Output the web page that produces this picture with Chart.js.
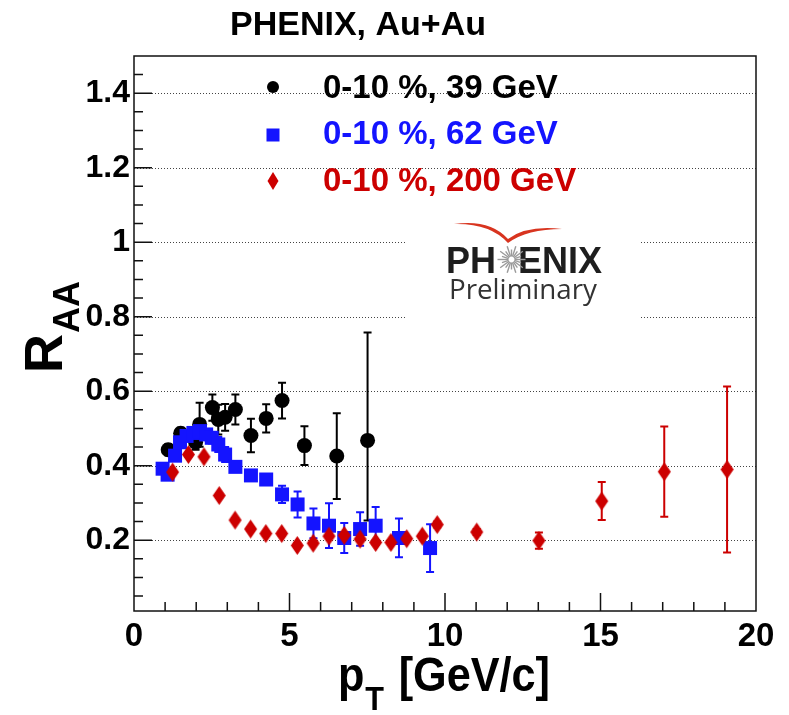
<!DOCTYPE html>
<html>
<head>
<meta charset="utf-8">
<script src="https://cdn.jsdelivr.net/npm/chart.js@4.4.1/dist/chart.umd.min.js"></script>
<style>
html,body{margin:0;padding:0;background:#fff;}
#wrap{width:789px;height:715px;position:relative;}
</style>
</head>
<body>
<div id="wrap"><canvas id="c" width="789" height="715"></canvas></div>
<script>
// ---- data ----
const titleText = 'PHENIX, Au+Au';
const legendLabels = ['0-10 %, 39 GeV', '0-10 %, 62 GeV', '0-10 %, 200 GeV'];

const pt39   = [1.10, 1.50, 1.98, 2.11, 2.52, 2.71, 2.93, 3.26, 3.76, 4.25, 4.76, 5.48, 6.52, 7.51];
const raa39  = [0.443,0.487,0.463,0.511,0.556,0.524,0.530,0.551,0.481,0.527,0.575,0.454,0.426,0.468];
const errLo39= [0.015,0.015,0.020,0.060,0.035,0.040,0.036,0.040,0.045,0.038,0.048,0.052,0.115,0.215];
const errHi39= [0.015,0.015,0.020,0.058,0.035,0.040,0.036,0.040,0.045,0.038,0.048,0.052,0.115,0.290];

const pt62   = [0.92,1.08,1.32,1.48,1.69,1.91,2.12,2.32,2.50,2.71,2.93,3.26,3.76,4.25,4.76,5.26,5.77,6.27,6.76,7.27,7.77,8.52,9.52];
const raa62  = [0.392,0.376,0.427,0.463,0.480,0.488,0.493,0.484,0.475,0.457,0.430,0.397,0.374,0.363,0.323,0.296,0.245,0.239,0.206,0.230,0.239,0.206,0.179];
const err62  = [0.010,0.010,0.010,0.010,0.010,0.010,0.010,0.012,0.015,0.020,0.020,0.012,0.012,0.015,0.023,0.035,0.040,0.060,0.040,0.045,0.050,0.052,0.064];

const pt200  = [1.24,1.75,2.25,2.74,3.25,3.75,4.24,4.75,5.25,5.76,6.27,6.76,7.27,7.77,8.26,8.77,9.27,9.75,11.02,13.02,15.04,17.05,19.07];
const raa200 = [0.383,0.430,0.424,0.320,0.254,0.230,0.218,0.218,0.186,0.192,0.211,0.213,0.203,0.194,0.194,0.204,0.211,0.242,0.222,0.199,0.305,0.384,0.390];
const err200 = [0.005,0.005,0.005,0.005,0.005,0.005,0.005,0.005,0.005,0.005,0.005,0.005,0.005,0.005,0.005,0.005,0.005,0.008,0.008,0.022,0.051,0.121,0.223];

const xTickVals = [0, 5, 10, 15, 20];
const xTickLabels = ['0', '5', '10', '15', '20'];
const yTickVals = [0.2, 0.4, 0.6, 0.8, 1.0, 1.2, 1.4];
const yTickLabels = ['0.2', '0.4', '0.6', '0.8', '1', '1.2', '1.4'];

// ---- styles ----
const COL39 = '#000000', COL62 = '#1414ff', COL200 = '#cc0000';
const FONT = '"Liberation Sans", Arial, Helvetica, sans-serif';

function diamondCanvas(w, h, color) {
  const c = document.createElement('canvas');
  c.width = w + 2; c.height = h + 2;
  const g = c.getContext('2d');
  g.fillStyle = color;
  g.beginPath();
  g.moveTo(c.width / 2, 1);
  g.lineTo(c.width - 1, c.height / 2);
  g.lineTo(c.width / 2, c.height - 1);
  g.lineTo(1, c.height / 2);
  g.closePath();
  g.fill();
  return c;
}
const diamond = diamondCanvas(13, 19, COL200);

function mk(xs, ys) { return xs.map((x, i) => ({ x: x, y: ys[i] })); }

const errorInfo = [
  { lo: err200, hi: err200, color: COL200 },
  { lo: err62, hi: err62, color: COL62 },
  { lo: errLo39, hi: errHi39, color: COL39 }
];

const rootPlugin = {
  id: 'rootStyle',
  beforeDatasetsDraw(chart) {
    const ctx = chart.ctx, a = chart.chartArea;
    const xs = chart.scales.x, ys = chart.scales.y;
    ctx.save();
    // dotted grid lines
    ctx.strokeStyle = '#444';
    ctx.lineWidth = 1;
    ctx.setLineDash([1, 2]);
    yTickVals.forEach(v => {
      const py = Math.round(ys.getPixelForValue(v)) + 0.5;
      ctx.beginPath(); ctx.moveTo(a.left, py); ctx.lineTo(a.right, py); ctx.stroke();
    });
    ctx.setLineDash([]);
    // white box behind logo
    ctx.fillStyle = '#fff';
    ctx.fillRect(405, 212, 235, 110);
    // logo: red wings (seagull shape)
    ctx.fillStyle = '#d8341f';
    ctx.beginPath();
    ctx.moveTo(454, 224);
    ctx.quadraticCurveTo(490, 219, 508, 239);
    ctx.quadraticCurveTo(527, 225, 562, 229);
    ctx.quadraticCurveTo(527, 229, 508, 243);
    ctx.quadraticCurveTo(490, 223, 454, 224);
    ctx.closePath();
    ctx.fill();
    // logo text
    ctx.fillStyle = '#1e1e1e';
    ctx.font = 'bold 36px ' + FONT;
    ctx.textBaseline = 'alphabetic';
    ctx.textAlign = 'left';
    ctx.fillText('PH', 446, 273);
    ctx.fillText('ENIX', 518, 273);
    // starburst replacing the O
    ctx.strokeStyle = '#9a9a9a';
    ctx.lineWidth = 1.4;
    const cx = 511.5, cy = 259.5;
    for (let k = 0; k < 20; k++) {
      const t = k * Math.PI * 2 / 20;
      const r1 = 3, r2 = (k % 2 === 0) ? 14 : 10;
      ctx.beginPath();
      ctx.moveTo(cx + r1 * Math.cos(t), cy + r1 * Math.sin(t));
      ctx.lineTo(cx + r2 * Math.cos(t), cy + r2 * Math.sin(t));
      ctx.stroke();
    }
    ctx.fillStyle = '#333';
    ctx.font = '28px "Open Sans", "Liberation Sans", sans-serif';
    ctx.fillText('Preliminary', 449, 299, 148);

    // error bars
    chart.data.datasets.forEach((ds, di) => {
      const info = errorInfo[di];
      ctx.strokeStyle = info.color;
      ctx.lineWidth = 2;
      ds.data.forEach((p, i) => {
        const px = xs.getPixelForValue(p.x);
        const yt = ys.getPixelForValue(p.y + info.hi[i]);
        const yb = ys.getPixelForValue(p.y - info.lo[i]);
        ctx.beginPath();
        ctx.moveTo(px, yt); ctx.lineTo(px, yb);
        ctx.moveTo(px - 4, yt); ctx.lineTo(px + 4, yt);
        ctx.moveTo(px - 4, yb); ctx.lineTo(px + 4, yb);
        ctx.stroke();
      });
    });
    ctx.restore();
  },
  afterDatasetsDraw(chart) {
    const ctx = chart.ctx, a = chart.chartArea;
    const xs = chart.scales.x, ys = chart.scales.y;
    ctx.save();
    // frame
    ctx.strokeStyle = '#111';
    ctx.lineWidth = 1.5;
    ctx.strokeRect(a.left, a.top, a.right - a.left, a.bottom - a.top);
    // y ticks (inside, left)
    ctx.lineWidth = 1.5;
    ctx.beginPath();
    for (let k = 1; k <= 29; k++) {
      const v = k * 0.05;
      const py = ys.getPixelForValue(v);
      const len = (k % 4 === 0) ? 18 : 9;
      ctx.moveTo(a.left, py); ctx.lineTo(a.left + len, py);
    }
    // x ticks (inside, bottom)
    for (let k = 1; k < 20; k++) {
      const px = xs.getPixelForValue(k);
      const len = (k % 5 === 0) ? 18 : 9;
      ctx.moveTo(px, a.bottom); ctx.lineTo(px, a.bottom - len);
    }
    ctx.stroke();

    // title
    ctx.fillStyle = '#000';
    ctx.font = 'bold 34px ' + FONT;
    ctx.textAlign = 'center';
    ctx.textBaseline = 'alphabetic';
    ctx.fillText(titleText, 358, 35);

    // legend
    ctx.textAlign = 'left';
    ctx.font = 'bold 33px ' + FONT;
    const lx = 273;
    ctx.fillStyle = COL39;
    ctx.beginPath(); ctx.arc(lx, 87, 6, 0, Math.PI * 2); ctx.fill();
    ctx.fillText(legendLabels[0], 323, 98);
    ctx.fillStyle = COL62;
    ctx.fillRect(lx - 6.5, 128.5, 13, 13);
    ctx.fillText(legendLabels[1], 323, 144);
    ctx.fillStyle = COL200;
    ctx.beginPath();
    ctx.moveTo(lx, 172); ctx.lineTo(lx + 5.5, 181); ctx.lineTo(lx, 190); ctx.lineTo(lx - 5.5, 181);
    ctx.closePath(); ctx.fill();
    ctx.fillText(legendLabels[2], 323, 191);

    // x axis title: p_T [GeV/c]  (slightly condensed like the original)
    ctx.fillStyle = '#000';
    ctx.save();
    ctx.translate(338, 691);
    ctx.scale(0.9, 1);
    let x0 = 0;
    ctx.font = 'bold 48px ' + FONT;
    ctx.fillText('p', x0, 0);
    x0 += ctx.measureText('p').width;
    ctx.font = 'bold 34px ' + FONT;
    ctx.fillText('T', x0 + 1, 19);
    x0 += ctx.measureText('T').width + 4;
    ctx.font = 'bold 48px ' + FONT;
    ctx.fillText(' [GeV/c]', x0, 0);
    ctx.restore();

    // y axis title: R_AA (rotated)
    ctx.save();
    ctx.translate(62, 373);
    ctx.rotate(-Math.PI / 2);
    ctx.font = 'bold 54px ' + FONT;
    ctx.fillText('R', 0, 0);
    const rw = ctx.measureText('R').width;
    ctx.font = 'bold 36px ' + FONT;
    ctx.fillText('AA', rw + 1, 17);
    ctx.restore();

    ctx.restore();
  }
};

new Chart(document.getElementById('c'), {
  type: 'scatter',
  data: {
    datasets: [
      { label: legendLabels[2], data: mk(pt200, raa200), pointStyle: diamond, backgroundColor: COL200, borderColor: COL200 },
      { label: legendLabels[1], data: mk(pt62, raa62), pointStyle: 'rect', pointRadius: 9.9, backgroundColor: COL62, borderColor: COL62, borderWidth: 0 },
      { label: legendLabels[0], data: mk(pt39, raa39), pointStyle: 'circle', pointRadius: 7.5, backgroundColor: COL39, borderColor: COL39, borderWidth: 0 }
    ]
  },
  options: {
    responsive: false,
    animation: false,
    devicePixelRatio: 1,
    events: [],
    layout: { padding: { top: 56, right: 33, left: 0, bottom: 0 } },
    plugins: { legend: { display: false }, tooltip: { enabled: false }, title: { display: false } },
    elements: { point: { hoverRadius: 0 } },
    scales: {
      x: {
        type: 'linear', min: 0, max: 20,
        afterFit(s) { s.height = 104; },
        afterBuildTicks(s) { s.ticks = xTickVals.map(v => ({ value: v })); },
        grid: { display: false, drawTicks: false },
        border: { display: false },
        ticks: {
          padding: 6, color: '#000',
          font: { family: FONT, weight: 'bold', size: 33 },
          maxRotation: 0, autoSkip: false,
          callback: (v, i) => xTickLabels[i]
        }
      },
      y: {
        type: 'linear', min: 0.01, max: 1.5,
        afterFit(s) { s.width = 134; },
        afterBuildTicks(s) { s.ticks = yTickVals.map(v => ({ value: v })); },
        grid: { display: false, drawTicks: false },
        border: { display: false },
        ticks: {
          padding: 4, color: '#000',
          font: { family: FONT, weight: 'bold', size: 32 },
          autoSkip: false,
          callback: (v, i) => yTickLabels[i]
        }
      }
    }
  },
  plugins: [rootPlugin]
});
</script>
</body>
</html>
